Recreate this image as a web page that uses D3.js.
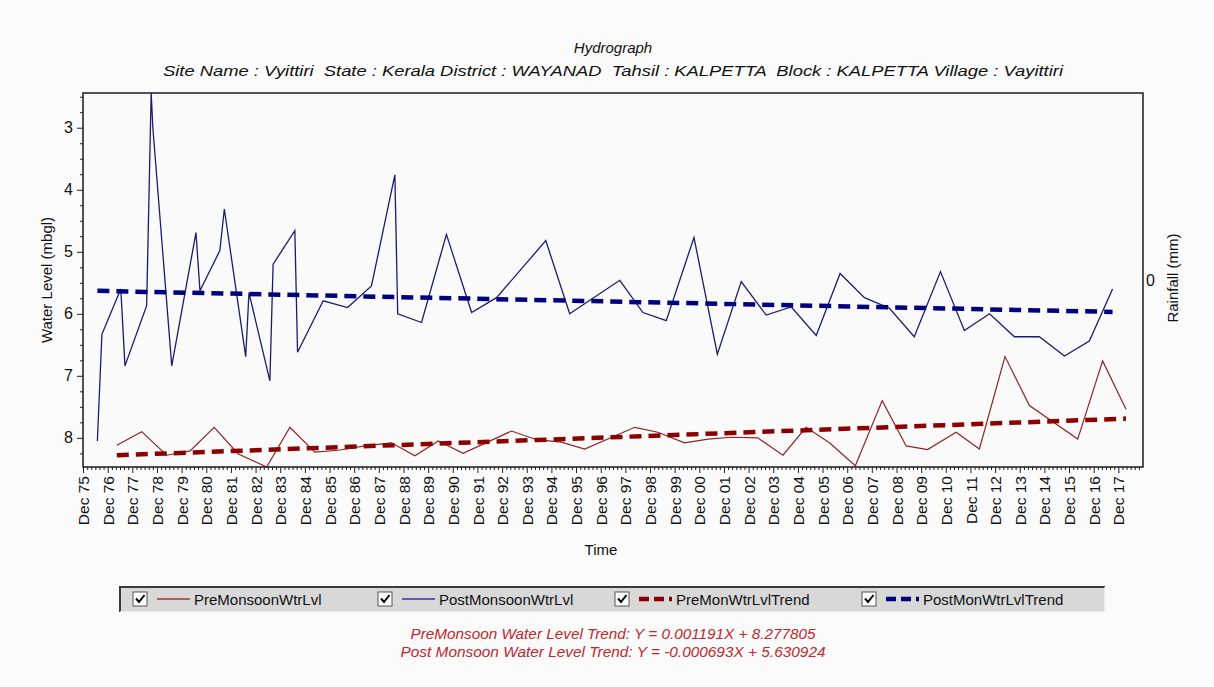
<!DOCTYPE html>
<html>
<head>
<meta charset="utf-8">
<script src="https://d3js.org/d3.v7.min.js"></script>
<style>
  body { margin: 0; background: #fbfbfb; }
  svg { display: block; font-family: "Liberation Sans", Arial, sans-serif; }
</style>
</head>
<body>
<div class="chart"></div>
<script>
// Pre monsoon readings (date, water level in mbgl)
var preDates = ["1977-04-15", "1978-04-19", "1979-04-23", "1980-04-05", "1981-03-27", "1982-03-20",
  "1983-05-14", "1984-04-23", "1985-04-26", "1986-04-08", "1987-05-07", "1988-06-06", "1989-05-18",
  "1990-04-30", "1991-05-03", "1993-04-19", "1994-04-26", "1995-04-26", "1996-04-08", "1998-04-19",
  "1999-03-27", "2000-04-26", "2001-04-08", "2002-03-17", "2003-04-15", "2004-04-23", "2005-04-01",
  "2006-03-13", "2007-04-01", "2008-05-03", "2009-04-23", "2010-03-06", "2011-05-03", "2012-04-12",
  "2013-04-26", "2014-04-23", "2016-04-08", "2017-04-12", "2018-03-24"];
var preLevels = [8.12, 7.90, 8.28, 8.21, 7.83, 8.26, 8.47, 7.83, 8.23, 8.20, 8.13, 8.08, 8.29,
  8.05, 8.25, 7.89, 8.03, 8.07, 8.18, 7.83, 7.91, 8.08, 8.02, 7.99, 8.00, 8.28, 7.83,
  8.08, 8.45, 7.40, 8.13, 8.19, 7.91, 8.18, 6.69, 7.48, 8.02, 6.76, 7.54];

// Post monsoon readings
var postDates = ["1976-07-01", "1976-09-06", "1977-06-13", "1977-08-14", "1978-07-01", "1978-09-06",
  "1978-10-01", "1979-07-08", "1980-07-01", "1980-08-29", "1981-06-20", "1981-08-25", "1982-07-08",
  "1982-08-25", "1983-07-01", "1983-08-18", "1984-07-05", "1984-08-14", "1985-08-29", "1986-08-25",
  "1987-08-14", "1988-07-26", "1988-09-06", "1989-08-25", "1990-08-29", "1991-09-06", "1992-09-09",
  "1994-09-09", "1995-08-29", "1997-09-09", "1998-08-18", "1999-07-30", "2000-09-13", "2001-08-25",
  "2002-08-14", "2003-08-18", "2004-08-25", "2005-08-29", "2006-08-18", "2007-08-14", "2008-08-18",
  "2009-08-21", "2010-09-13", "2011-09-02", "2012-09-09", "2013-09-13", "2014-09-17", "2015-09-24",
  "2016-09-27", "2017-09-06"];
var postLevels = [8.05, 6.33, 5.60, 6.84, 5.87, 2.44, 3.00, 6.84, 4.69, 5.63, 4.98, 4.31, 6.69,
  5.66, 7.08, 5.20, 4.66, 6.62, 5.79, 5.90, 5.55, 3.76, 6.00, 6.14, 4.72, 5.98, 5.74,
  4.82, 6.00, 5.46, 5.98, 6.11, 4.77, 6.65, 5.48, 6.02, 5.89, 6.35, 5.35, 5.74, 5.91,
  6.37, 5.32, 6.27, 6.00, 6.37, 6.37, 6.68, 6.44, 5.60];

// Trend lines: level at first and last reading of each series
var preTrendLevels = [8.28, 7.69];
var postTrendLevels = [5.63, 5.97];

var yTickValues = [3, 4, 5, 6, 7, 8];
var rainfallTicks = [0];
var legendLabels = ["PreMonsoonWtrLvl", "PostMonsoonWtrLvl", "PreMonWtrLvlTrend", "PostMonWtrLvlTrend"];
var titleText = "Hydrograph";
var subtitleText = "Site Name : Vyittiri  State : Kerala District : WAYANAD  Tahsil : KALPETTA  Block : KALPETTA Village : Vayittiri";
var equationLines = ["PreMonsoon Water Level Trend: Y = 0.001191X + 8.277805",
  "Post Monsoon Water Level Trend: Y = -0.000693X + 5.630924"];

var svgWidth = 1214;
var svgHeight = 687;
var margin = { top: 93, right: 71, bottom: 220, left: 83 };
var width = svgWidth - margin.left - margin.right;
var height = svgHeight - margin.top - margin.bottom;

var parseDate = d3.timeParse("%Y-%m-%d");

var preData = preDates.map(function (d, i) { return { date: parseDate(d), level: preLevels[i] }; });
var postData = postDates.map(function (d, i) { return { date: parseDate(d), level: postLevels[i] }; });
var preTrend = [
  { date: preData[0].date, level: preTrendLevels[0] },
  { date: preData[preData.length - 1].date, level: preTrendLevels[1] }
];
var postTrend = [
  { date: postData[0].date, level: postTrendLevels[0] },
  { date: postData[postData.length - 1].date, level: postTrendLevels[1] }
];

var svg = d3.select(".chart")
  .append("svg")
  .attr("width", svgWidth)
  .attr("height", svgHeight);

var chart = svg.append("g")
  .attr("transform", "translate(" + margin.left + "," + margin.top + ")");

// Scales
var xStart = new Date(1975, 11, 1);
var xEnd = new Date(2018, 11, 1);
var xScale = d3.scaleTime().domain([xStart, xEnd]).range([0, width]);

var allLevels = preLevels.concat(postLevels);
var yScale = d3.scaleLinear()
  .domain([d3.min(allLevels), d3.max(allLevels)])
  .range([0, height]);

var rainScale = d3.scaleLinear().domain([-1, 1]).range([height, 0]);

// plot background
chart.append("rect")
  .attr("width", width)
  .attr("height", height)
  .attr("fill", "#fafafb");

// X axis: major ticks each December, minor ticks every two months
var majorTicks = d3.timeMonth.range(xStart, xEnd, 12);
var minorTicks = d3.timeMonth.range(xStart, new Date(2018, 11, 2), 2)
  .filter(function (d) { return d.getMonth() !== 11; });

chart.append("g")
  .attr("class", "x-minor")
  .attr("transform", "translate(0," + height + ")")
  .call(d3.axisBottom(xScale).tickValues(minorTicks).tickSize(3).tickFormat(""));

var xAxis = chart.append("g")
  .attr("class", "x-axis")
  .attr("transform", "translate(0," + height + ")")
  .call(d3.axisBottom(xScale).tickValues(majorTicks).tickSize(6).tickFormat(d3.timeFormat("%b %y")));

xAxis.selectAll("text")
  .attr("transform", "rotate(-90)")
  .attr("text-anchor", "end")
  .attr("x", -9)
  .attr("y", 0)
  .attr("dy", "0.36em")
  .style("font-size", "15.5px")
  .style("fill", "#111");

// Y axis
var yMinor = d3.range(2.5, 8.5, 0.25).filter(function (v) {
  return v % 1 !== 0 && v >= yScale.domain()[0] && v <= yScale.domain()[1];
});

chart.append("g")
  .attr("class", "y-minor")
  .call(d3.axisLeft(yScale).tickValues(yMinor).tickSize(3).tickFormat(""));

chart.append("g")
  .attr("class", "y-axis")
  .call(d3.axisLeft(yScale).tickValues(yTickValues).tickSize(6).tickPadding(4).tickFormat(d3.format("d")))
  .selectAll("text")
  .style("font-size", "16px")
  .style("fill", "#111");

// Rainfall axis on the right
chart.append("g")
  .attr("class", "rain-axis")
  .attr("transform", "translate(" + width + ",0)")
  .call(d3.axisRight(rainScale).tickValues(rainfallTicks).tickSize(0).tickPadding(3).tickFormat(d3.format("d")))
  .selectAll("text")
  .style("font-size", "16px")
  .style("fill", "#111");

svg.selectAll(".domain").remove();
svg.selectAll(".tick line").attr("stroke", "#222");

// clip
chart.append("clipPath")
  .attr("id", "plot-clip")
  .append("rect")
  .attr("x", 0)
  .attr("y", -1)
  .attr("width", width)
  .attr("height", height + 2);

var plot = chart.append("g").attr("clip-path", "url(#plot-clip)");

var line = d3.line()
  .x(function (d) { return xScale(d.date); })
  .y(function (d) { return yScale(d.level); });

plot.append("path")
  .datum(preData)
  .attr("d", line)
  .attr("fill", "none")
  .attr("stroke", "#8e2424")
  .attr("stroke-width", 1.2);

plot.append("path")
  .datum(postData)
  .attr("d", line)
  .attr("fill", "none")
  .attr("stroke", "#1c1c6e")
  .attr("stroke-width", 1.3);

plot.append("path")
  .datum(preTrend)
  .attr("d", line)
  .attr("fill", "none")
  .attr("stroke", "#8b0000")
  .attr("stroke-width", 4.5)
  .attr("stroke-dasharray", "12,7");

plot.append("path")
  .datum(postTrend)
  .attr("d", line)
  .attr("fill", "none")
  .attr("stroke", "#00007f")
  .attr("stroke-width", 4.5)
  .attr("stroke-dasharray", "12,7");

// frame
chart.append("rect")
  .attr("width", width)
  .attr("height", height)
  .attr("fill", "none")
  .attr("stroke", "#1a1a1a")
  .attr("stroke-width", 1.5);

// Axis titles
chart.append("text")
  .attr("transform", "rotate(-90)")
  .attr("x", -height / 2)
  .attr("y", -31)
  .attr("text-anchor", "middle")
  .style("font-size", "15px")
  .style("fill", "#111")
  .text("Water Level (mbgl)");

chart.append("text")
  .attr("transform", "rotate(-90)")
  .attr("x", -height / 2 + 2)
  .attr("y", width + 35)
  .attr("text-anchor", "middle")
  .style("font-size", "15px")
  .style("fill", "#111")
  .text("Rainfall (mm)");

chart.append("text")
  .attr("x", width / 2 - 12)
  .attr("y", height + 88)
  .attr("text-anchor", "middle")
  .style("font-size", "15px")
  .style("fill", "#111")
  .text("Time");

// Titles
svg.append("text")
  .attr("x", 613)
  .attr("y", 53)
  .attr("text-anchor", "middle")
  .style("font-size", "15px")
  .style("font-style", "italic")
  .style("fill", "#111")
  .text(titleText);

svg.append("text")
  .attr("x", 613)
  .attr("y", 76)
  .attr("text-anchor", "middle")
  .attr("textLength", 900)
  .attr("lengthAdjust", "spacingAndGlyphs")
  .style("font-size", "15.5px")
  .style("font-style", "italic")
  .style("fill", "#111")
  .style("white-space", "pre")
  .text(subtitleText);

// Legend
var legend = svg.append("g").attr("transform", "translate(120,587)");
legend.append("rect")
  .attr("width", 985)
  .attr("height", 25)
  .attr("fill", "#d8d8d8");
legend.append("path")
  .attr("d", "M0,25 V0 H985")
  .attr("fill", "none")
  .attr("stroke", "#3a3a3a")
  .attr("stroke-width", 2);
legend.append("path")
  .attr("d", "M0,25 H985 V0")
  .attr("fill", "none")
  .attr("stroke", "#f4f4f4")
  .attr("stroke-width", 1.5);

var legendX = [13, 258, 495, 742];
var legendStyles = [
  { color: "#b03030", width: 1.3, dash: null },
  { color: "#3333a0", width: 1.3, dash: null },
  { color: "#8b0000", width: 4.5, dash: "10,5" },
  { color: "#00007f", width: 4.5, dash: "10,5" }
];

legendLabels.forEach(function (label, i) {
  var item = legend.append("g").attr("transform", "translate(" + legendX[i] + ",5)");
  item.append("rect")
    .attr("width", 14)
    .attr("height", 14)
    .attr("fill", "#fff")
    .attr("stroke", "#555")
    .attr("stroke-width", 1);
  item.append("path")
    .attr("d", "M3,6.5 L6,10 L11.5,3")
    .attr("fill", "none")
    .attr("stroke", "#000")
    .attr("stroke-width", 2);
  item.append("line")
    .attr("x1", 24)
    .attr("x2", 57)
    .attr("y1", 7)
    .attr("y2", 7)
    .attr("stroke", legendStyles[i].color)
    .attr("stroke-width", legendStyles[i].width)
    .attr("stroke-dasharray", legendStyles[i].dash);
  item.append("text")
    .attr("x", 61)
    .attr("y", 12.5)
    .style("font-size", "15px")
    .style("fill", "#111")
    .text(label);
});

// Trend equations
var equationWidths = [405, 425];
equationLines.forEach(function (t, i) {
  svg.append("text")
    .attr("x", 613)
    .attr("y", 639 + i * 18)
    .attr("text-anchor", "middle")
    .attr("textLength", equationWidths[i])
    .attr("lengthAdjust", "spacingAndGlyphs")
    .style("font-family", "'Liberation Sans Narrow', 'Liberation Sans', sans-serif")
    .style("font-size", "14px")
    .style("font-style", "italic")
    .style("fill", "#c0282d")
    .text(t);
});
</script>
</body>
</html>
